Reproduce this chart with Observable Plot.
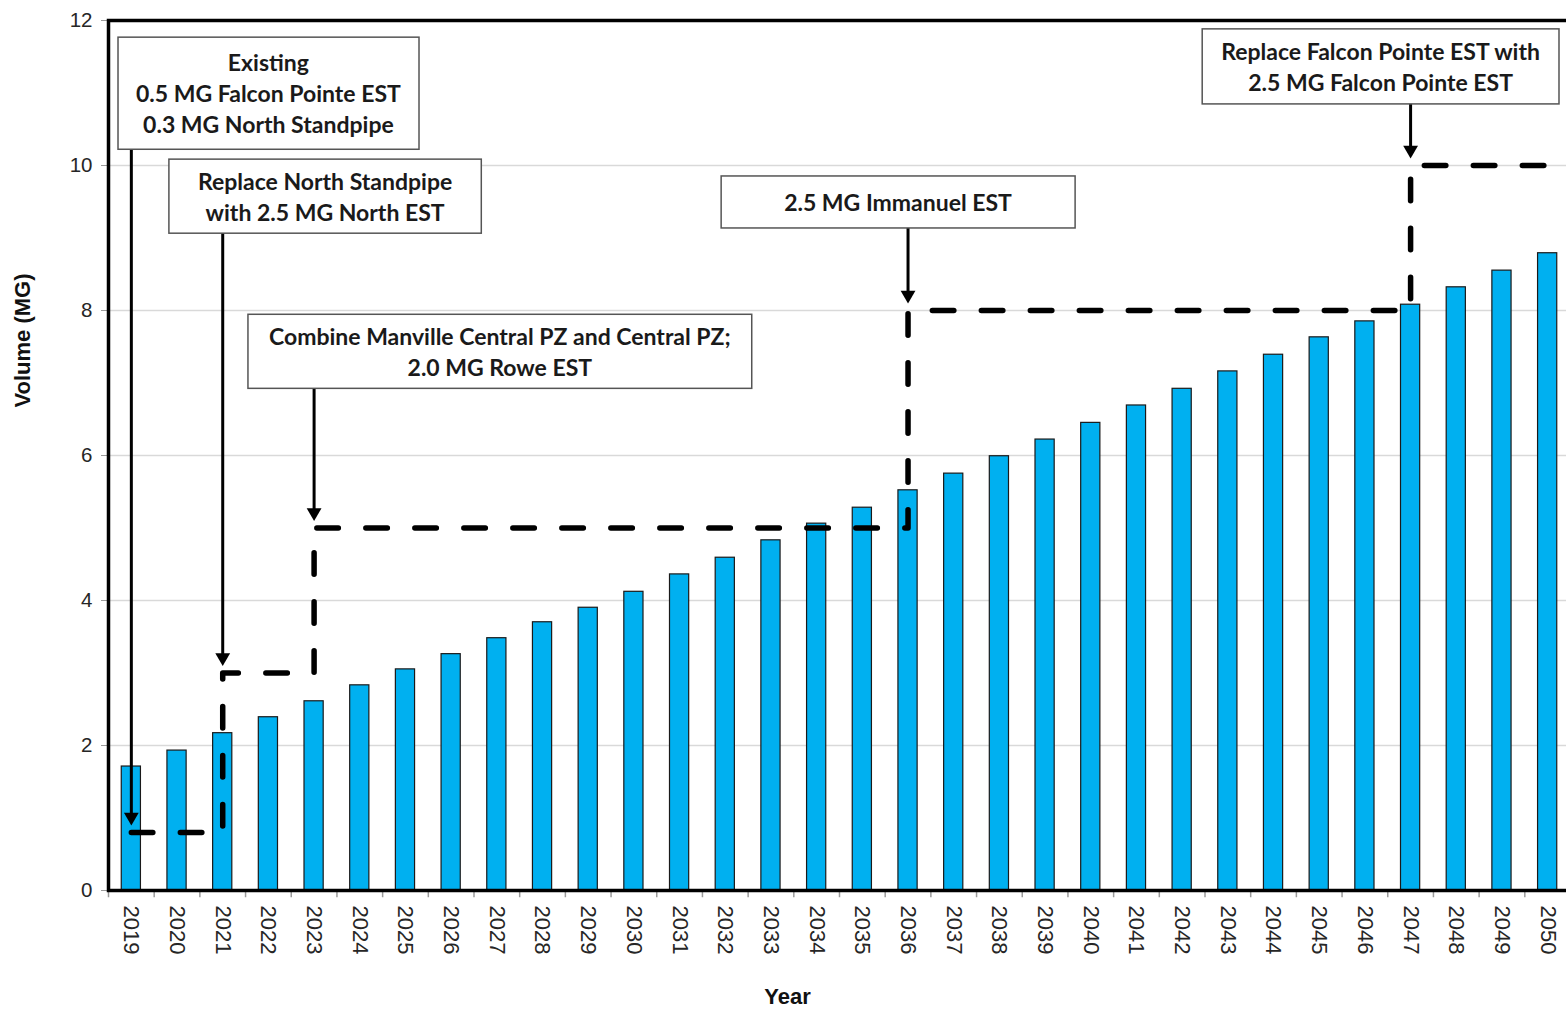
<!DOCTYPE html>
<html>
<head>
<meta charset="utf-8">
<script src="https://cdn.jsdelivr.net/npm/d3@7"></script>
<script src="https://cdn.jsdelivr.net/npm/@observablehq/plot@0.6"></script>
<style>
  html, body { margin: 0; padding: 0; background: #ffffff; }
  #chart { width: 1566px; height: 1014px; overflow: hidden; }
</style>
</head>
<body>
<div id="chart"></div>
<script>
// ---------- data ----------
const years = [2019, 2020, 2021, 2022, 2023, 2024, 2025, 2026, 2027, 2028, 2029, 2030,
  2031, 2032, 2033, 2034, 2035, 2036, 2037, 2038, 2039, 2040, 2041, 2042,
  2043, 2044, 2045, 2046, 2047, 2048, 2049, 2050];
const volumeMG = [1.71, 1.93, 2.17, 2.39, 2.61, 2.83, 3.05, 3.26, 3.48, 3.70, 3.90, 4.12,
  4.36, 4.59, 4.83, 5.06, 5.28, 5.52, 5.75, 5.99, 6.22, 6.45, 6.69, 6.92,
  7.16, 7.39, 7.63, 7.85, 8.08, 8.32, 8.55, 8.79];
const storageYears = [2019, 2021, 2023, 2036, 2047, 2050];
const storageMG = [0.8, 3, 5, 8, 10, 10];
const yTicks = [0, 2, 4, 6, 8, 10, 12];
const noteYears = [2019, 2021, 2023, 2036, 2047];
const noteTexts = [
  "Existing\n0.5 MG Falcon Pointe EST\n0.3 MG North Standpipe",
  "Replace North Standpipe\nwith 2.5 MG North EST",
  "Combine Manville Central PZ and Central PZ;\n2.0 MG Rowe EST",
  "2.5 MG Immanuel EST",
  "Replace Falcon Pointe EST with\n2.5 MG Falcon Pointe EST"
];
const yLabel = "Volume (MG)";
const xLabel = "Year";

// ---------- layout ----------
const W = 1566, H = 1014;
const mL = 108, mR = -4, mT = 20, mB = 124;
const step = (W - mL - mR) / years.length;

const bars = years.map((y, i) => ({year: y, v: volumeMG[i]}));
const storage = storageYears.map((y, i) => ({year: y, v: storageMG[i]}));
const storageAt = y => {
  let v = storageMG[0];
  storageYears.forEach((sy, i) => { if (sy <= y) v = storageMG[i]; });
  return v;
};
// text-box placement: anchor year, horizontal nudge (px), vertical centre (MG), box padding (px)
const noteLayout = [
  {year: 2022, dx: 0, y: 11.01, padX: 18, padY: 11},
  {year: 2023, dx: 11, y: 9.59, padX: 29, padY: 7.5},
  {year: 2027, dx: 3, y: 7.45, padX: 21, padY: 7.5},
  {year: 2036, dx: -10, y: 9.51, padX: 63, padY: 12},
  {year: 2047, dx: -30, y: 11.38, padX: 19, padY: 8}
];
const notes = noteTexts.map((t, i) => ({text: t, ...noteLayout[i]}));
const arrows = noteYears.map((y, i) => ({year: y, top: noteLayout[i].y, v: storageAt(y)}));

const noteMarks = notes.map(n => Plot.text([n], {x: "year", y: "y", dx: n.dx, text: "text",
  fontFamily: "Lato, 'Open Sans', sans-serif", fontWeight: "bold", fontSize: 23, lineHeight: 1.35,
  fill: "#1a1a1a", textAnchor: "middle", lineAnchor: "middle"}));

const svg = Plot.plot({
  width: W,
  height: H,
  marginLeft: mL,
  marginRight: mR,
  marginTop: mT,
  marginBottom: mB,
  style: {fontFamily: "'Liberation Sans', Arial, sans-serif", background: "#ffffff", overflow: "visible"},
  x: {type: "band", domain: years, paddingInner: 0.58, paddingOuter: 0.29, round: false},
  y: {domain: [0, 12]},
  marks: [
    Plot.gridY(yTicks, {stroke: "#d9d9d9", strokeOpacity: 1, strokeWidth: 1.5}),
    Plot.axisY({ticks: yTicks, tickSize: 7, tickPadding: 9, fontSize: 20.5, stroke: "#9a9a9a", fill: "#262626", label: null}),
    Plot.axisX({tickSize: 0, tickPadding: 15, tickRotate: 90, fontSize: 22, fill: "#262626", label: null,
      tickFormat: d => String(d)}),
    Plot.ruleX(years, {x: d => d, dx: -step / 2, y1: 0, y2: -0.1, stroke: "#9a9a9a", strokeWidth: 1.5}),
    Plot.barY(bars, {x: "year", y: "v", fill: "#00B0F0", stroke: "#1a1a1a", strokeWidth: 1.2}),
    Plot.line(storage, {x: "year", y: "v", curve: "step-after", stroke: "#000", strokeWidth: 5.5,
      strokeDasharray: "21.5,27.5", strokeLinecap: "round", strokeLinejoin: "round"}),
    Plot.ruleX(arrows, {x: "year", y1: "top", y2: "v", stroke: "#000", strokeWidth: 3, insetBottom: 14}),
    Plot.dot(arrows, {x: "year", y: "v", symbol: "triangle", r: 5.5, rotate: 180, dy: -15.5, fill: "#000", stroke: "none"}),
    Plot.frame({stroke: "#000", strokeWidth: 3.5}),
    ...noteMarks,
    Plot.text([yLabel], {frameAnchor: "left", textAnchor: "middle", rotate: -90, dx: -86, dy: -115,
      fontWeight: "bold", fontSize: 22, fill: "#111"}),
    Plot.text([xLabel], {frameAnchor: "bottom", textAnchor: "middle", dx: -52, dy: 113,
      fontWeight: "bold", fontSize: 22, fill: "#111"})
  ]
});

document.getElementById("chart").append(svg);

// draw a framed white box behind every annotation text
const ns = "http://www.w3.org/2000/svg";
const keys = noteTexts.map(t => t.replace(/\n/g, ""));
svg.querySelectorAll("text").forEach(t => {
  const k = keys.indexOf(t.textContent.replace(/\n/g, ""));
  if (k < 0) return;
  const {padX, padY} = noteLayout[k];
  const b = t.getBBox();
  const r = document.createElementNS(ns, "rect");
  r.setAttribute("x", b.x - padX);
  r.setAttribute("y", b.y - padY);
  r.setAttribute("width", b.width + 2 * padX);
  r.setAttribute("height", b.height + 2 * padY);
  r.setAttribute("fill", "#ffffff");
  r.setAttribute("stroke", "#555555");
  r.setAttribute("stroke-width", "1.5");
  const tr = t.getAttribute("transform");
  if (tr) r.setAttribute("transform", tr);
  t.parentNode.insertBefore(r, t);
});
</script>
</body>
</html>
